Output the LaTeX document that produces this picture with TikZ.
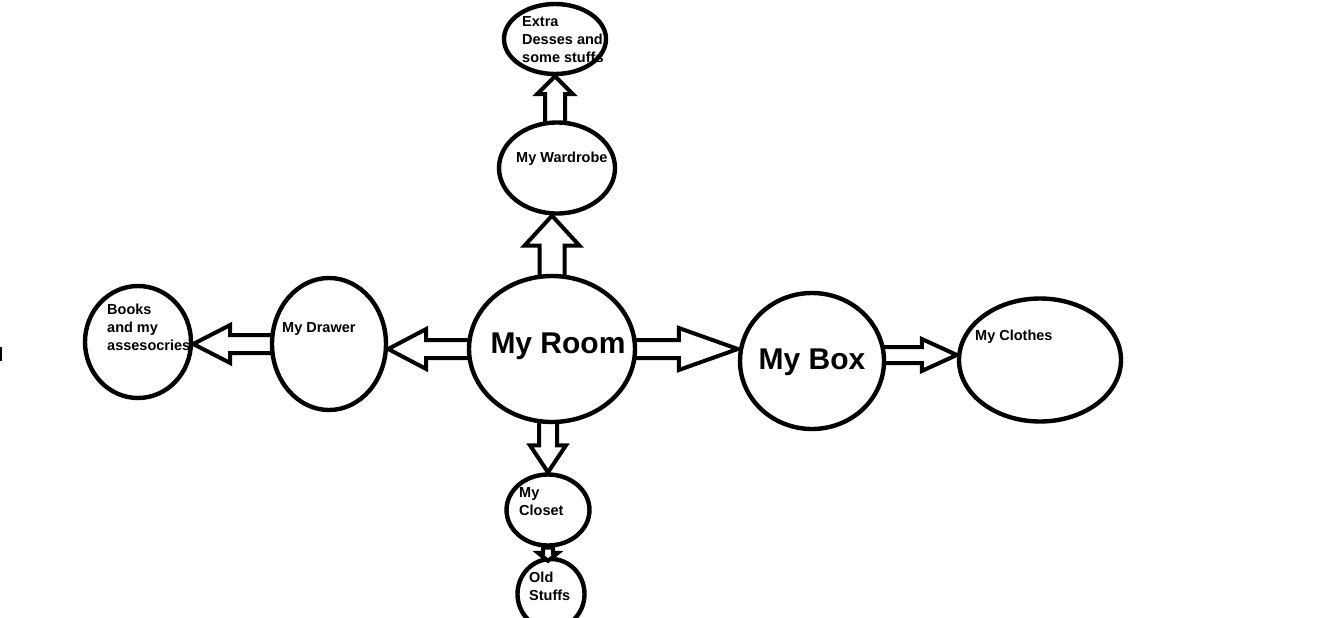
\documentclass[tikz,border=0pt]{standalone}
\usepackage{fontspec}
\setmainfont{Liberation Sans}
\usetikzlibrary{shapes.geometric,calc,backgrounds}
\tikzset{
  ell/.style={ellipse, draw, line width=4.4pt, fill=white, inner sep=0pt},
  lbl/.style={inner sep=0pt, align=left, anchor=west, font=\fontsize{14.5}{18}\selectfont\bfseries},
  big/.style={inner sep=0pt, font=\fontsize{30}{36}\selectfont\bfseries},
  barr/.style={draw=black, fill=white, line width=4pt, line join=miter}
}
\newcommand\blockarr[5]{%
  \coordinate (bS) at (#1);
  \coordinate (bT) at (#2);
  \coordinate (bH) at ($(bT)!#5!(bS)$);
  \filldraw[barr] ($(bS)!#3!90:(bT)$) -- ($(bH)!#3!-90:(bS)$) -- ($(bH)!#4!-90:(bS)$)
    -- (bT) -- ($(bH)!#4!90:(bS)$) -- ($(bH)!#3!90:(bS)$) -- ($(bS)!#3!-90:(bT)$) -- cycle;
}
\begin{document}
\begin{tikzpicture}[x=1pt,y=-1pt]
\useasboundingbox (0,0) rectangle (1341,618);
% ellipses
\node[ell, minimum width=102pt, minimum height=70pt] (extra) at (555,39) {};
\node[ell, minimum width=116pt, minimum height=91pt] (wardrobe) at (557,168) {};
\node[ell, minimum width=166pt, minimum height=146pt] (room) at (552,349) {};
\node[ell, minimum width=114pt, minimum height=132pt] (drawer) at (329,344) {};
\node[ell, minimum width=106pt, minimum height=112pt] (books) at (138,342) {};
\node[ell, minimum width=144pt, minimum height=136pt] (box) at (812,361) {};
\node[ell, minimum width=162pt, minimum height=123pt] (clothes) at (1040,360) {};
\node[ell, minimum width=83pt, minimum height=71pt] (closet) at (548,510) {};
\node[ell, minimum width=67pt, minimum height=70pt] (old) at (551,594) {};
% block arrows behind the ellipses
\begin{pgfonlayer}{background}
\blockarr{room}{room |- wardrobe.south}{12.5pt}{27.5pt}{30pt}
\blockarr{extra |- wardrobe}{extra.south}{10pt}{18pt}{18pt}
\blockarr{room}{room -| drawer.east}{9pt}{20pt}{38pt}
\blockarr{drawer}{drawer -| books.east}{9pt}{19pt}{37pt}
\blockarr{room}{room -| box.west}{9pt}{21pt}{59pt}
\blockarr{$(box)+(0,-6)$}{$(box -| clothes.west)+(0,-6)$}{8pt}{16pt}{35pt}
\blockarr{closet |- room}{closet.north}{9pt}{18pt}{27pt}
\end{pgfonlayer}
\blockarr{closet.south}{$(closet |- old.north)+(0,4)$}{5pt}{10pt}{8pt}
% labels
\node[lbl] (textra) at (522,40) {Extra\\Desses and\\some stuffs};
\node[lbl] (twardrobe) at (516,159) {My Wardrobe};
\node[big] (troom) at (558,346) {My Room};
\node[lbl] (tdrawer) at (282,329) {My Drawer};
\node[lbl] (tbooks) at (107,327) {Books\\and my\\assesocries};
\node[big] (tbox) at (812,362) {My Box};
\node[lbl] (tclothes) at (975,337) {My Clothes};
\node[lbl] (tcloset) at (519,502) {My\\Closet};
\node[lbl] (told) at (529,586) {Old\\Stuffs};
% stray mark at the left edge
\draw[line width=2pt] (1,347) -- (1,361);
\end{tikzpicture}
\end{document}
